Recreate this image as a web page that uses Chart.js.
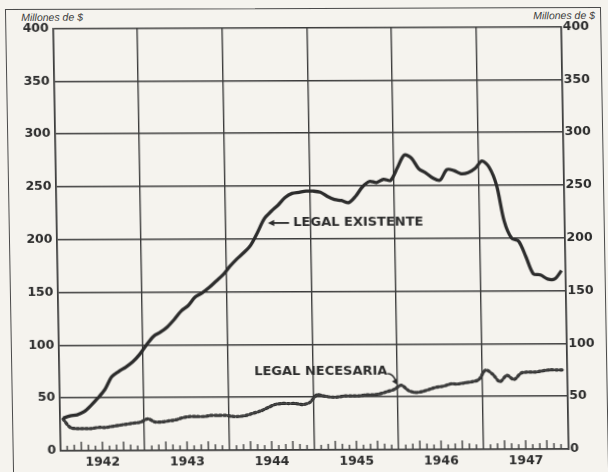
<!DOCTYPE html>
<html>
<head>
<meta charset="utf-8">
<script src="https://cdn.jsdelivr.net/npm/chart.js@4.4.1/dist/chart.umd.min.js"></script>
<style>
  html, body { margin: 0; padding: 0; background: #f5f3ee; overflow: hidden; }
  #wrap { position: relative; width: 608px; height: 472px;
          transform-origin: 304px 240px; transform: rotate(-0.2deg) skewX(0.8deg); }
  #frame { position: absolute; left: 9px; top: 8px; width: 596px; height: 480px;
           border: 1.6px solid #4a4a4a; box-sizing: border-box; }
  canvas { position: absolute; left: 0; top: 0; }
  .unit { position: absolute; top: 10px; font: italic 10.5px "Liberation Sans", sans-serif; color: #3c3c3c; white-space: nowrap; }
</style>
</head>
<body>
<div id="wrap">
  <div id="frame"></div>
  <span class="unit" style="left:25px">Millones de $</span>
  <span class="unit" style="left:537px">Millones de $</span>
  <canvas id="c" width="608" height="472"></canvas>
</div>
<script>
// ---- data (monthly, Jan 1942 .. Dec 1947), millones de $ ----
const years = ['1942', '1943', '1944', '1945', '1946', '1947'];
const yTicks = [0, 50, 100, 150, 200, 250, 300, 350, 400];
const legalExistente = [
  31, 33, 34, 37, 43, 50, 58, 70, 75, 79, 84, 91,
  100, 108, 112, 117, 124, 132, 137, 145, 149, 154, 160, 166,
  174, 181, 187, 194, 206, 219, 226, 232, 239, 243, 244, 245,
  245, 244, 240, 237, 236, 234, 240, 249, 254, 253, 256, 255,
  267, 279, 276, 266, 262, 257, 255, 265, 264, 261, 262, 266,
  273, 267, 250, 216, 200, 197, 182, 166, 165, 161, 161, 169
];
const legalNecesaria = [
  30, 22, 21, 21, 21, 22, 22, 23, 24, 25, 26, 27,
  30, 27, 27, 28, 29, 31, 32, 32, 32, 33, 33, 33,
  32, 32, 33, 35, 37, 40, 43, 44, 44, 44, 43, 45,
  52, 51, 50, 50, 51, 51, 51, 52, 52, 53, 55, 57,
  61, 56, 54, 55, 57, 59, 60, 62, 62, 63, 64, 66,
  75, 71, 64, 70, 66, 72, 73, 73, 74, 75, 75, 75
];
const labelExistente = { text: 'LEGAL EXISTENTE', x: 33.6, y: 215, arrowFrom: 33.0, arrowTo: 30.0 };
const labelNecesaria = { text: 'LEGAL NECESARIA', x: 27.7, y: 74, arrowFrom: [46.6, 72], arrowTo: [47.9, 61.5] };

const INK = '#2c2c2c';
const GRID = '#3c3c3c';
const FONT = 'DejaVu Sans';

const toPts = arr => arr.map((v, i) => ({ x: i + 0.5, y: v }));

const monthTicks = {
  id: 'monthTicks',
  beforeDatasetsDraw(chart) {
    const x = chart.scales.x, y = chart.scales.y, c = chart.ctx;
    const base = y.getPixelForValue(0);
    c.save();
    c.strokeStyle = GRID; c.lineWidth = 1.4;
    for (let m = 1; m < years.length * 12; m++) {
      if (m % 12 === 0) continue;
      const k = m % 12;
      const h = (k % 3 === 0) ? 9 : (k % 2 === 0 ? 6 : 5);
      const px = x.getPixelForValue(m);
      c.beginPath(); c.moveTo(px, base); c.lineTo(px, base - h); c.stroke();
    }
    c.restore();
  }
};

function arrowHead(c, x0, y0, x1, y1, size) {
  const a = Math.atan2(y1 - y0, x1 - x0);
  c.beginPath();
  c.moveTo(x1, y1);
  c.lineTo(x1 - size * Math.cos(a - 0.45), y1 - size * Math.sin(a - 0.45));
  c.lineTo(x1 - size * Math.cos(a + 0.45), y1 - size * Math.sin(a + 0.45));
  c.closePath(); c.fill();
}

const annotations = {
  id: 'annotations',
  afterDatasetsDraw(chart) {
    const x = chart.scales.x, y = chart.scales.y, c = chart.ctx;
    c.save();
    c.fillStyle = INK; c.strokeStyle = INK;
    c.font = 'bold 13px "' + FONT + '"';
    c.textBaseline = 'middle'; c.textAlign = 'left';
    // existente
    const ey = y.getPixelForValue(labelExistente.y);
    c.fillText(labelExistente.text, x.getPixelForValue(labelExistente.x), ey);
    const ax0 = x.getPixelForValue(labelExistente.arrowFrom), ax1 = x.getPixelForValue(labelExistente.arrowTo);
    c.lineWidth = 1.8;
    c.beginPath(); c.moveTo(ax0, ey); c.lineTo(ax1 + 4, ey); c.stroke();
    arrowHead(c, ax0, ey, ax1, ey, 7);
    // necesaria
    const ny = y.getPixelForValue(labelNecesaria.y);
    c.fillText(labelNecesaria.text, x.getPixelForValue(labelNecesaria.x), ny);
    const bx0 = x.getPixelForValue(labelNecesaria.arrowFrom[0]), by0 = y.getPixelForValue(labelNecesaria.arrowFrom[1]);
    const bx1 = x.getPixelForValue(labelNecesaria.arrowTo[0]), by1 = y.getPixelForValue(labelNecesaria.arrowTo[1]);
    c.lineWidth = 1.5;
    c.beginPath(); c.moveTo(bx0, by0); c.quadraticCurveTo(bx0 + 6, by0, bx1 - 1, by1 - 3); c.stroke();
    arrowHead(c, bx0 + 4, by0 + 2, bx1, by1, 6);
    c.restore();
  }
};

const tickFont = { family: FONT, weight: 'bold', size: 12.5 };

new Chart(document.getElementById('c'), {
  type: 'line',
  data: {
    datasets: [
      { label: 'Legal existente', data: toPts(legalExistente), borderColor: INK, borderWidth: 3.3,
        pointRadius: 0, tension: 0.3, fill: false, yAxisID: 'y' },
      { label: 'Legal necesaria', data: toPts(legalNecesaria), borderColor: '#555', borderWidth: 0.8,
        pointRadius: 0, tension: 0.3, fill: false, yAxisID: 'y' },
      { label: 'Legal necesaria (puntos)', data: toPts(legalNecesaria), borderColor: INK, borderWidth: 3.2,
        borderDash: [2, 2.4], borderCapStyle: 'round', pointRadius: 0, tension: 0.3, fill: false, yAxisID: 'y' }
    ]
  },
  options: {
    responsive: false,
    animation: false,
    events: [],
    layout: { padding: { top: 27.5, left: 0, right: 0, bottom: 0 } },
    plugins: { legend: { display: false }, tooltip: { enabled: false } },
    scales: {
      x: {
        type: 'linear', min: 0, max: years.length * 12,
        afterBuildTicks: s => {
          const t = [];
          for (let v = 0; v <= years.length * 12; v += 6) t.push({ value: v });
          s.ticks = t;
        },
        grid: { color: c => (c.tick && c.tick.value % 12 === 0) ? GRID : 'rgba(0,0,0,0)', lineWidth: 1.4, drawTicks: false },
        border: { color: GRID, width: 1.6 },
        ticks: {
          autoSkip: false, maxRotation: 0, padding: 4, color: INK, font: tickFont,
          callback: v => (v % 12 === 6) ? years[(v - 6) / 12] : ''
        },
        afterFit: s => { s.height = 22; }
      },
      y: {
        position: 'left', min: 0, max: 400,
        afterBuildTicks: s => { s.ticks = yTicks.map(v => ({ value: v })); },
        grid: { color: GRID, lineWidth: 1.4, drawTicks: false },
        border: { color: GRID, width: 1.6 },
        ticks: { padding: 4, color: INK, font: tickFont },
        afterFit: s => { s.width = 56.5; }
      },
      y2: {
        position: 'right', min: 0, max: 400,
        afterBuildTicks: s => { s.ticks = yTicks.map(v => ({ value: v })); },
        grid: { drawOnChartArea: false, drawTicks: false },
        border: { color: GRID, width: 1.6 },
        ticks: { padding: 2, color: INK, font: tickFont },
        afterFit: s => { s.width = 43.5; }
      }
    }
  },
  plugins: [monthTicks, annotations]
});
</script>
</body>
</html>
